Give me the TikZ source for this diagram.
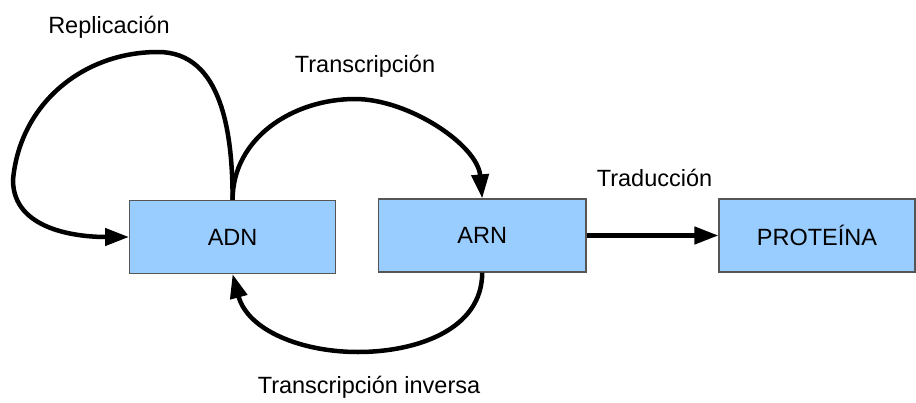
\documentclass[tikz,border=0pt]{standalone}
\usepackage{fontspec}
\setmainfont{Liberation Sans}
\usetikzlibrary{arrows.meta}
\definecolor{boxfill}{HTML}{99CCFF}
\definecolor{boxline}{HTML}{555555}
\begin{document}
\begin{tikzpicture}[x=1pt,y=1pt,
  box/.style={draw=boxline, line width=1.2pt, fill=boxfill, minimum width=#1,
    minimum height=73pt, inner sep=0pt, font=\fontsize{23.5}{27}\selectfont},
  lbl/.style={anchor=base, inner sep=0pt, font=\fontsize{23.5}{27}\selectfont},
  flow/.style={line width=4.5pt, -{Triangle[length=24pt,width=17pt]}}]
\useasboundingbox (0,0) rectangle (916,-402);
\node[box=206pt] (adn) at (232.6,-237) {ADN};
\node[box=207.5pt] (arn) at (482.2,-235.5) {ARN};
\node[box=196pt] (prot) at (817,-235.5) {PROTEÍNA};
% Replicación
\draw[flow] (adn.north) to[out=90,in=0] (158,-52)
  to[out=180,in=85] (13,-180) to[out=-90,in=180] (adn.west);
% Transcripción
\draw[flow] (adn.north) to[out=90,in=180] (355,-99)
  to[out=0,in=95,looseness=0.85] (arn.north);
% Transcripción inversa
\draw[flow] (arn.south) to[out=-90,in=0] (358,-352)
  to[out=180,in=-75] (adn.south);
% Traducción
\draw[flow] (arn.east) -- (prot.west);
\node[lbl] (lrep) at (109,-33) {Replicación};
\node[lbl] (ltr) at (365,-72) {Transcripción};
\node[lbl] (ltrad) at (654.5,-186) {Traducción};
\node[lbl] (linv) at (369,-393) {Transcripción inversa};
\end{tikzpicture}
\end{document}
